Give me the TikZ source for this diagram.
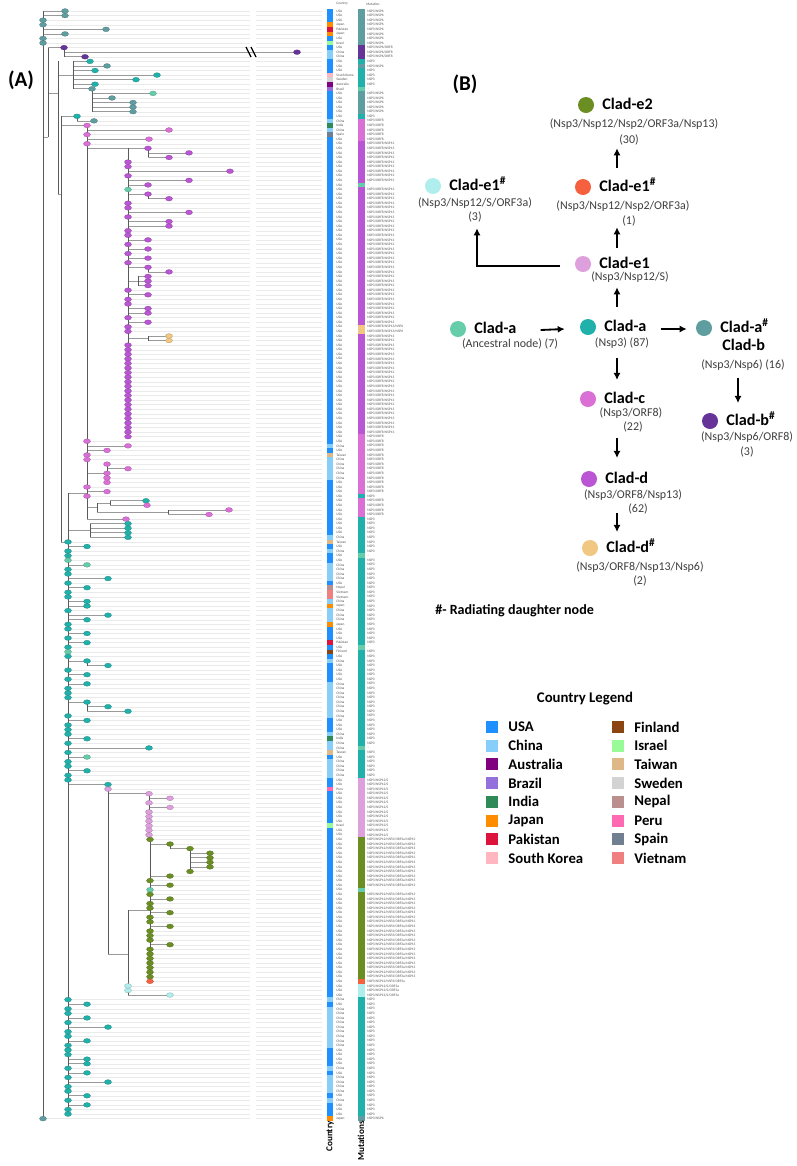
\documentclass[tikz,border=0pt]{standalone}
\usepackage{fontspec}
\setmainfont{Carlito}
\usetikzlibrary{arrows.meta, positioning, calc}

% clade colours
\definecolor{kA}{HTML}{20B2AA}
\definecolor{kN}{HTML}{66CDAA}
\definecolor{kB}{HTML}{5F9EA0}
\definecolor{kBh}{HTML}{663399}
\definecolor{kC}{HTML}{DA70D6}
\definecolor{kD}{HTML}{BA55D3}
\definecolor{kDh}{HTML}{F0C882}
\definecolor{kE}{HTML}{DDA0DD}
\definecolor{kEr}{HTML}{F5603F}
\definecolor{kEc}{HTML}{B0EEEE}
\definecolor{kF}{HTML}{6B8E23}
% country colours
\definecolor{USA}{HTML}{1E90FF}
\definecolor{China}{HTML}{87CEFA}
\definecolor{Australia}{HTML}{800080}
\definecolor{Brazil}{HTML}{9370DB}
\definecolor{India}{HTML}{2E8B57}
\definecolor{Japan}{HTML}{FF8C00}
\definecolor{Pakistan}{HTML}{DC143C}
\definecolor{SKorea}{HTML}{FFB6C1}
\definecolor{Finland}{HTML}{8B4513}
\definecolor{Israel}{HTML}{98FB98}
\definecolor{Taiwan}{HTML}{DEB887}
\definecolor{Sweden}{HTML}{D3D3D3}
\definecolor{Nepal}{HTML}{BC8F8F}
\definecolor{Peru}{HTML}{FF69B4}
\definecolor{Spain}{HTML}{708090}
\definecolor{Vietnam}{HTML}{F08080}
\definecolor{subgray}{HTML}{3F3F3F}
\definecolor{lblgray}{HTML}{555555}
\definecolor{spinegray}{HTML}{5A5A5A}
\definecolor{branchgray}{HTML}{9A9A9A}
\definecolor{leadgray}{HTML}{EAEAEA}

\newcommand\mutkA{NSP3}
\newcommand\mutkN{--}
\newcommand\mutkB{NSP3/NSP6}
\newcommand\mutkBh{NSP3/NSP6/ORF8}
\newcommand\mutkC{NSP3/ORF8}
\newcommand\mutkD{NSP3/ORF8/NSP13}
\newcommand\mutkDh{NSP3/ORF8/NSP13/NSP6}
\newcommand\mutkE{NSP3/NSP12/S}
\newcommand\mutkEr{NSP3/NSP12/NSP2/ORF3a}
\newcommand\mutkEc{NSP3/NSP12/S/ORF3a}
\newcommand\mutkF{NSP3/NSP12/NSP2/ORF3a/NSP13}

\tikzset{
    dot/.style={circle, minimum size=0.4cm, inner sep=0pt},
    cladetitle/.style={font=\fontsize{11.5}{13}\selectfont\bfseries, inner sep=0pt, text height=8.5pt, text depth=2.5pt},
    cladesub/.style={font=\fontsize{8.5}{10}\selectfont, text=subgray, inner sep=0pt, text height=6.5pt, text depth=2pt},
    arrow/.style={-{Latex[length=5pt, width=5pt]}, line width=1.3pt},
    legbox/.style={minimum size=0.3cm, inner sep=0pt},
    legtext/.style={font=\fontsize{10.5}{12}\selectfont\bfseries, inner sep=0pt, anchor=west},
    rowlbl/.style={font=\fontsize{2.5}{3}\selectfont, text=lblgray, inner sep=0pt, anchor=west},
    spine/.style={draw=spinegray, line width=0.5pt},
    branch/.style={draw=branchgray, line width=0.45pt},
    leader/.style={draw=leadgray, line width=0.25pt},
}

% tree tips: row / parent x / tip x / clade
\def\tiplist{0/43/65/kB, 1/43/65/kB, 2/43/43/kB, 3/43/43/kB, 4/43/106/kB, 5/43/65/kB, 6/43/43/kB, 7/43/43/kB,
8/48/64/kBh, 9/64/297/kBh, 10/64/85/kBh,
11/73/90/kA, 12/73/107/kB, 13/73/95/kA, 14/73/157/kA, 15/73/136/kA, 16/73/95/kA, 17/73/92/kB,
18/92/153/kN, 19/92/112/kB, 20/92/133/kB, 21/92/133/kB, 22/92/133/kB, 23/61/77/kA, 24/77/94/kB,
25/87/87/kC, 26/87/169/kC, 27/87/87/kC, 28/87/149/kC, 29/87/87/kC,
30/128/148/kD, 31/148/189/kD, 32/148/169/kD, 33/128/128/kD, 34/128/128/kD, 35/128/230/kD, 36/128/128/kD, 37/128/189/kD, 38/128/148/kD, 39/128/128/kN,
40/128/148/kD, 41/148/169/kD, 42/128/128/kD, 43/128/128/kD, 44/128/189/kD, 45/128/128/kD, 46/128/169/kD, 47/128/169/kD, 48/128/128/kD, 49/128/128/kD,
50/128/148/kD, 51/128/128/kD, 52/128/148/kD, 53/128/128/kD, 54/128/148/kD, 55/128/128/kD, 56/128/148/kD, 57/148/169/kD, 58/138/148/kD, 59/138/148/kD,
60/138/148/kD, 61/128/128/kD, 62/128/148/kD, 63/128/128/kD, 64/128/128/kD, 65/128/148/kD, 66/128/148/kD, 67/128/128/kD, 68/128/148/kD, 69/128/128/kD,
70/128/128/kD, 71/148/169/kDh, 72/148/169/kDh, 73/128/128/kD, 74/128/128/kD, 75/128/128/kD, 76/128/128/kD, 77/128/128/kD, 78/128/128/kD, 79/128/128/kD,
80/128/128/kD, 81/128/128/kD, 82/128/128/kD, 83/128/128/kD, 84/128/128/kD, 85/128/128/kD, 86/128/128/kD, 87/128/128/kD, 88/128/128/kD, 89/128/128/kD,
90/128/128/kD, 91/128/128/kD, 92/128/128/kD, 93/128/128/kD,
94/87/87/kC, 95/87/128/kC, 96/87/107/kC, 97/87/87/kC, 98/87/87/kC, 99/107/107/kC, 100/107/128/kC, 101/107/107/kC, 102/107/107/kC, 103/107/107/kC,
104/87/87/kC, 105/87/107/kC, 106/87/87/kC, 107/110/146/kA, 108/110/147/kC, 109/168/229/kC, 110/168/209/kC, 111/87/126/kC,
112/90/128/kA, 113/90/128/kA, 114/90/128/kA, 115/90/128/kA,
116/68/68/kA, 117/68/87/kA, 118/68/68/kA, 119/68/68/kA, 120/68/68/kN, 121/68/87/kN, 122/68/68/kA, 123/68/68/kA, 124/68/108/kA, 125/68/68/kA,
126/68/87/kA, 127/68/68/kA, 128/68/68/kA, 129/68/87/kA, 130/68/87/kA, 131/68/68/kA, 132/68/108/kA, 133/68/87/kA, 134/68/68/kA, 135/68/68/kA,
136/68/87/kA, 137/68/68/kA, 138/68/87/kA, 139/68/68/kA, 140/68/68/kN, 141/68/68/kA, 142/68/87/kA, 143/87/108/kA, 144/68/68/kA, 145/68/87/kA,
146/68/68/kA, 147/68/87/kA, 148/68/68/kA, 149/68/68/kA, 150/68/68/kA, 151/68/87/kA, 152/87/108/kA, 153/87/128/kA, 154/68/68/kA, 155/68/87/kA,
156/68/68/kA, 157/68/68/kA, 158/68/68/kA, 159/68/87/kA, 160/68/68/kA, 161/68/149/kA, 162/68/68/kA, 163/68/87/kN, 164/68/68/kA, 165/68/68/kA,
166/68/87/kA, 167/68/68/kA, 168/68/68/kA,
169/68/108/kA, 170/108/108/kE, 171/108/149/kE, 172/149/170/kE, 173/149/149/kE, 174/149/170/kE, 175/149/149/kE, 176/149/149/kE, 177/149/149/kE, 178/149/149/kE,
179/149/149/kE, 180/149/149/kE,
181/150/150/kF, 182/150/170/kF, 183/170/190/kF, 184/190/210/kF, 185/190/210/kF, 186/190/210/kF, 187/190/210/kF, 188/190/190/kF, 189/150/170/kF, 190/150/150/kF,
191/150/170/kF, 192/150/150/kN, 193/150/150/kF, 194/150/170/kF, 195/150/150/kF, 196/150/150/kF, 197/150/170/kF, 198/150/150/kF, 199/150/150/kF, 200/150/170/kF,
201/150/150/kF, 202/150/150/kF, 203/150/150/kF, 204/150/170/kF, 205/150/150/kF, 206/150/150/kF, 207/150/150/kF, 208/150/150/kF, 209/150/150/kF, 210/150/150/kF,
211/150/150/kF, 212/150/150/kEr, 213/128/128/kEc, 214/128/128/kEc, 215/128/170/kEc,
216/68/68/kA, 217/68/87/kA, 218/68/68/kA, 219/68/68/kA, 220/68/87/kA, 221/68/68/kA, 222/68/108/kA, 223/68/68/kA, 224/68/68/kA, 225/68/87/kA,
226/68/68/kA, 227/68/68/kA, 228/68/68/kA, 229/68/87/kA, 230/68/87/kA, 231/68/68/kA, 232/68/87/kA, 233/68/68/kA, 234/68/108/kA, 235/68/68/kA,
236/68/68/kA, 237/68/87/kA, 238/68/68/kA, 239/68/87/kA, 240/68/68/kA, 241/68/68/kA, 242/43/43/kB}

% vertical spines: x / first row / last row
\def\spinelist{43/0/242, 48/8/27.5, 64/8/10, 58/11/40, 73/11/17, 92/17/22, 77/23/24, 61/23/116, 87/25/111, 128/30/93,
148/30/32, 148/40/41, 148/56/57, 138/58/60, 148/71/72, 107/99/103, 97/107.5/109.5, 110/107/108, 168/109/110, 90/112/115,
68/105.3/241, 87/142/143, 87/151/153, 108/169/206, 149/171/180, 150/181/212, 170/182/183, 190/183/188, 128/196.5/215}

% inner links: row / from x / to x
\def\linklist{27.5/43/48, 18/48/58, 14/58/73, 40/58/61, 25/61/87, 30/87/128, 59/128/138, 71.5/128/148, 101/87/107, 108.5/87/97,
107.5/97/110, 109.5/97/168, 105.3/68/87, 113.5/68/90, 116/61/68, 196.5/128/150, 206/108/128}

% country strip: first row / last row / colour / name
\def\ctylist{0/2/USA/USA, 3/3/Japan/Japan, 4/4/Pakistan/Pakistan, 5/5/Japan/Japan, 6/6/USA/USA, 7/7/Israel/Israel, 8/8/USA/USA,
9/10/China/China, 11/13/USA/USA, 14/14/SKorea/South Korea, 15/15/Sweden/Sweden, 16/16/Australia/Australia, 17/17/Brazil/Brazil,
18/23/USA/USA, 24/24/China/China, 25/25/India/India, 26/26/China/China, 27/27/Spain/Spain, 28/94/USA/USA, 95/95/China/China,
96/96/USA/USA, 97/97/Taiwan/Taiwan, 98/102/China/China, 103/114/USA/USA, 115/115/China/China, 116/116/Taiwan/Taiwan,
117/117/USA/USA, 118/118/China/China, 119/120/USA/USA, 121/124/China/China, 125/125/USA/USA, 126/126/Nepal/Nepal,
127/128/Vietnam/Vietnam, 129/129/China/China, 130/130/Japan/Japan, 131/133/China/China, 134/134/Japan/Japan, 135/137/USA/USA,
138/138/Pakistan/Pakistan, 139/139/USA/USA, 140/140/Finland/Finland, 141/141/USA/USA, 142/142/China/China, 143/146/USA/USA,
147/154/China/China, 155/157/USA/USA, 158/158/China/China, 159/159/India/India, 160/161/China/China, 162/162/Taiwan/Taiwan,
163/163/USA/USA, 164/167/China/China, 168/169/USA/USA, 170/170/Peru/Peru, 171/177/USA/USA, 178/178/Israel/Israel,
179/215/USA/USA, 216/216/China/China, 217/217/USA/USA, 218/226/China/China, 227/230/USA/USA, 231/231/China/China,
232/232/USA/USA, 233/236/China/China, 237/237/USA/USA, 238/238/China/China, 239/241/USA/USA, 242/242/Japan/Japan}

% mutation strip: first row / last row / clade
\def\mutlist{0/7/kB, 8/10/kBh, 11/11/kA, 12/12/kB, 13/16/kA, 17/17/kN, 18/22/kB, 23/23/kA, 24/28/kC, 29/37/kD, 38/38/kN,
39/68/kD, 69/70/kDh, 71/92/kD, 93/105/kC, 106/106/kA, 107/110/kC, 111/118/kA, 119/119/kN, 120/138/kA, 139/139/kN,
140/160/kA, 161/161/kN, 162/167/kA, 168/180/kE, 181/191/kF, 192/192/kN, 193/211/kF, 212/212/kEr, 213/215/kEc,
216/241/kA, 242/242/kB}

\begin{document}
\begin{tikzpicture}[x=0.025cm, y=-0.025cm]
    \useasboundingbox (0,0) rectangle (797,1166);
    \fill[white] (0,0) rectangle (797,1166);

    % (A) tree
    \node[font=\fontsize{15}{17}\selectfont\bfseries] (lblA) at (21,80) {(A)};
    \foreach \r/\p/\t/\c in \tiplist {
        \draw[leader] (\t,{11+4.577*\r}) -- (250,{11+4.577*\r}) (256,{11+4.577*\r}) -- (322,{11+4.577*\r});
    }
    \foreach \a/\b/\k/\n in \ctylist {
        \fill[\k] (327,{11+4.577*(\a-0.5)}) rectangle (333,{11+4.577*(\b+0.5)});
        \foreach \r in {\a,...,\b}
            \node[rowlbl] (cty\r) at (336,{11+4.577*\r}) {\n};
    }
    \foreach \a/\b/\k in \mutlist {
        \fill[\k] (358,{11+4.577*(\a-0.5)}) rectangle (365,{11+4.577*(\b+0.5)});
        \foreach \r in {\a,...,\b}
            \node[rowlbl] (mut\r) at (367,{11+4.577*\r}) {\csname mut\k\endcsname};
    }
    \node[rowlbl] (ctyhead) at (336,4) {Country};
    \node[rowlbl] (muthead) at (366,4) {Mutation};
    \foreach \ra/\xa/\xb in \linklist
        \draw[branch] (\xa,{11+4.577*\ra}) -- (\xb,{11+4.577*\ra});
    \foreach \r/\p/\t/\c in \tiplist
        \draw[branch] (\p,{11+4.577*\r}) -- (\t,{11+4.577*\r});
    \foreach \sx/\sa/\sb in \spinelist
        \draw[spine] (\sx,{11+4.577*\sa}) -- (\sx,{11+4.577*\sb});
    % break on the long branch
    \draw[line width=0.9pt] (246,47) -- (251,57) (251,47) -- (256,57);
    \foreach \r/\p/\t/\c in \tiplist
        \filldraw[fill=\c, draw=\c!70!black, line width=0.15pt] (\t,{11+4.577*\r}) ellipse [x radius=3.5, y radius=2.4];
    \node[font=\fontsize{6.5}{7}\selectfont\bfseries, rotate=90, anchor=east, inner sep=0pt] (ctyfoot) at (330,1121) {Country};
    \node[font=\fontsize{6.5}{7}\selectfont\bfseries, rotate=90, anchor=east, inner sep=0pt] (mutfoot) at (361,1121) {Mutations};

    % (B) clade scheme
    \node[font=\fontsize{15}{17}\selectfont\bfseries] (lblB) at (465,84) {(B)};
    \coordinate (col) at (617,0);
    \coordinate (colb) at (738,0);

    \node[dot, fill=kF] (e2d) at (586,105) {};
    \node[cladetitle, right=5.5pt of e2d] (e2t) {Clad-e2};
    \node[cladesub] (e2s) at (634,124) {(Nsp3/Nsp12/Nsp2/ORF3a/Nsp13)};
    \node[cladesub] (e2n) at (629,140) {(30)};

    \node[dot, fill=kEr] (er1d) at (583,187) {};
    \node[cladetitle, right=5.5pt of er1d] (er1t) {Clad-e1\textsuperscript{\#}};
    \node[cladesub] (er1s) at (623,206) {(Nsp3/Nsp12/Nsp2/ORF3a)};
    \node[cladesub] (er1n) at (629,221) {(1)};

    \node[dot, fill=kEc] (ec1d) at (433,186) {};
    \node[cladetitle, right=5.5pt of ec1d] (ec1t) {Clad-e1\textsuperscript{\#}};
    \node[cladesub] (ec1s) at (475,203) {(Nsp3/Nsp12/S/ORF3a)};
    \node[cladesub] (ec1n) at (475,217) {(3)};

    \node[dot, fill=kE] (e1d) at (583,264) {};
    \node[cladetitle, right=5.5pt of e1d] (e1t) {Clad-e1};
    \node[cladesub] (e1s) at (630,277) {(Nsp3/Nsp12/S)};

    \node[dot, fill=kN] (a0d) at (458,329) {};
    \node[cladetitle, right=5.5pt of a0d] (a0t) {Clad-a};
    \node[cladesub] (a0s) at (510,344) {(Ancestral node) (7)};

    \node[dot, fill=kA] (a1d) at (588,327) {};
    \node[cladetitle, right=5.5pt of a1d] (a1t) {Clad-a};
    \node[cladesub] (a1s) at (622,343) {(Nsp3) (87)};

    \node[dot, fill=kB] (abd) at (704,328) {};
    \node[cladetitle, right=5.5pt of abd] (abt) {Clad-a\textsuperscript{\#}};
    \node[cladetitle, anchor=west] (abb) at (722,346) {Clad-b};
    \node[cladesub] (abs) at (743,365) {(Nsp3/Nsp6) (16)};

    \node[dot, fill=kBh] (bhd) at (710,421) {};
    \node[cladetitle, right=5.5pt of bhd] (bht) {Clad-b\textsuperscript{\#}};
    \node[cladesub] (bhs) at (747,437) {(Nsp3/Nsp6/ORF8)};
    \node[cladesub] (bhn) at (747,452) {(3)};

    \node[dot, fill=kC] (ccd) at (588,399) {};
    \node[cladetitle, right=5.5pt of ccd] (cct) {Clad-c};
    \node[cladesub] (ccs) at (631,413) {(Nsp3/ORF8)};
    \node[cladesub] (ccn) at (633,427) {(22)};

    \node[dot, fill=kD] (dd) at (589,479) {};
    \node[cladetitle, right=5.5pt of dd] (dt) {Clad-d};
    \node[cladesub] (ds) at (633,495) {(Nsp3/ORF8/Nsp13)};
    \node[cladesub] (dn) at (638,509) {(62)};

    \node[dot, fill=kDh] (dhd) at (590,548) {};
    \node[cladetitle, right=5.5pt of dhd] (dht) {Clad-d\textsuperscript{\#}};
    \node[cladesub] (dhs) at (640,567) {(Nsp3/ORF8/Nsp13/Nsp6)};
    \node[cladesub] (dhn) at (640,581) {(2)};

    \draw[arrow] ($(e1t.north -| col)+(0,-8)$) -- ($(er1n.south -| col)+(0,0)$);
    \draw[arrow] ($(er1t.north -| col)+(0,-11)$) -- ($(e2n.south -| col)+(0,2)$);
    \draw[arrow] ($(e1d.west)+(-15,2)$) -| ($(ec1n.south)+(2,5)$);
    \draw[arrow] ($(a1t.north -| col)+(0,-12)$) -- ($(e1s.south -| col)+(0,4)$);
    \draw[arrow] ($(a0t.east)+(24,1)$) -- ($(a1d.west)+(-15,2)$);
    \draw[arrow] ($(a1t.east)+(14,2)$) -- ($(abd.west)+(-9,1)$);
    \draw[arrow] ($(abs.south -| colb)+(0,7)$) -- ($(bht.north -| colb)+(0,-10)$);
    \draw[arrow] ($(a1s.south -| col)+(0,9)$) -- ($(cct.north -| col)+(0,-11)$);
    \draw[arrow] ($(ccn.south -| col)+(0,5)$) -- ($(dt.north -| col)+(0,-13)$);
    \draw[arrow] ($(dn.south -| col)+(0,-2)$) -- ($(dht.north -| col)+(0,-8)$);

    \node[font=\fontsize{10}{12}\selectfont\bfseries, anchor=west, inner sep=0pt] (note) at (435,611) {\#- Radiating daughter node};

    % country legend
    \node[font=\fontsize{10.5}{12}\selectfont\bfseries] (legtitle) at (585,699) {Country Legend};
    \foreach \k/\n [count=\i from 0] in {USA/USA, China/China, Australia/Australia, Brazil/Brazil, India/India, Japan/Japan, Pakistan/Pakistan, SKorea/South Korea} {
        \node[legbox, fill=\k] (lgl\i) at (492,{727+18.7*\i}) {};
        \node[legtext, right=7pt of lgl\i] (lgtl\i) {\n};
    }
    \foreach \k/\n [count=\i from 0] in {Finland/Finland, Israel/Israel, Taiwan/Taiwan, Sweden/Sweden, Nepal/Nepal, Peru/Peru, Spain/Spain, Vietnam/Vietnam} {
        \node[legbox, fill=\k] (lgr\i) at (618,{727+18.7*\i}) {};
        \node[legtext, right=7pt of lgr\i] (lgtr\i) {\n};
    }
\end{tikzpicture}
\end{document}
